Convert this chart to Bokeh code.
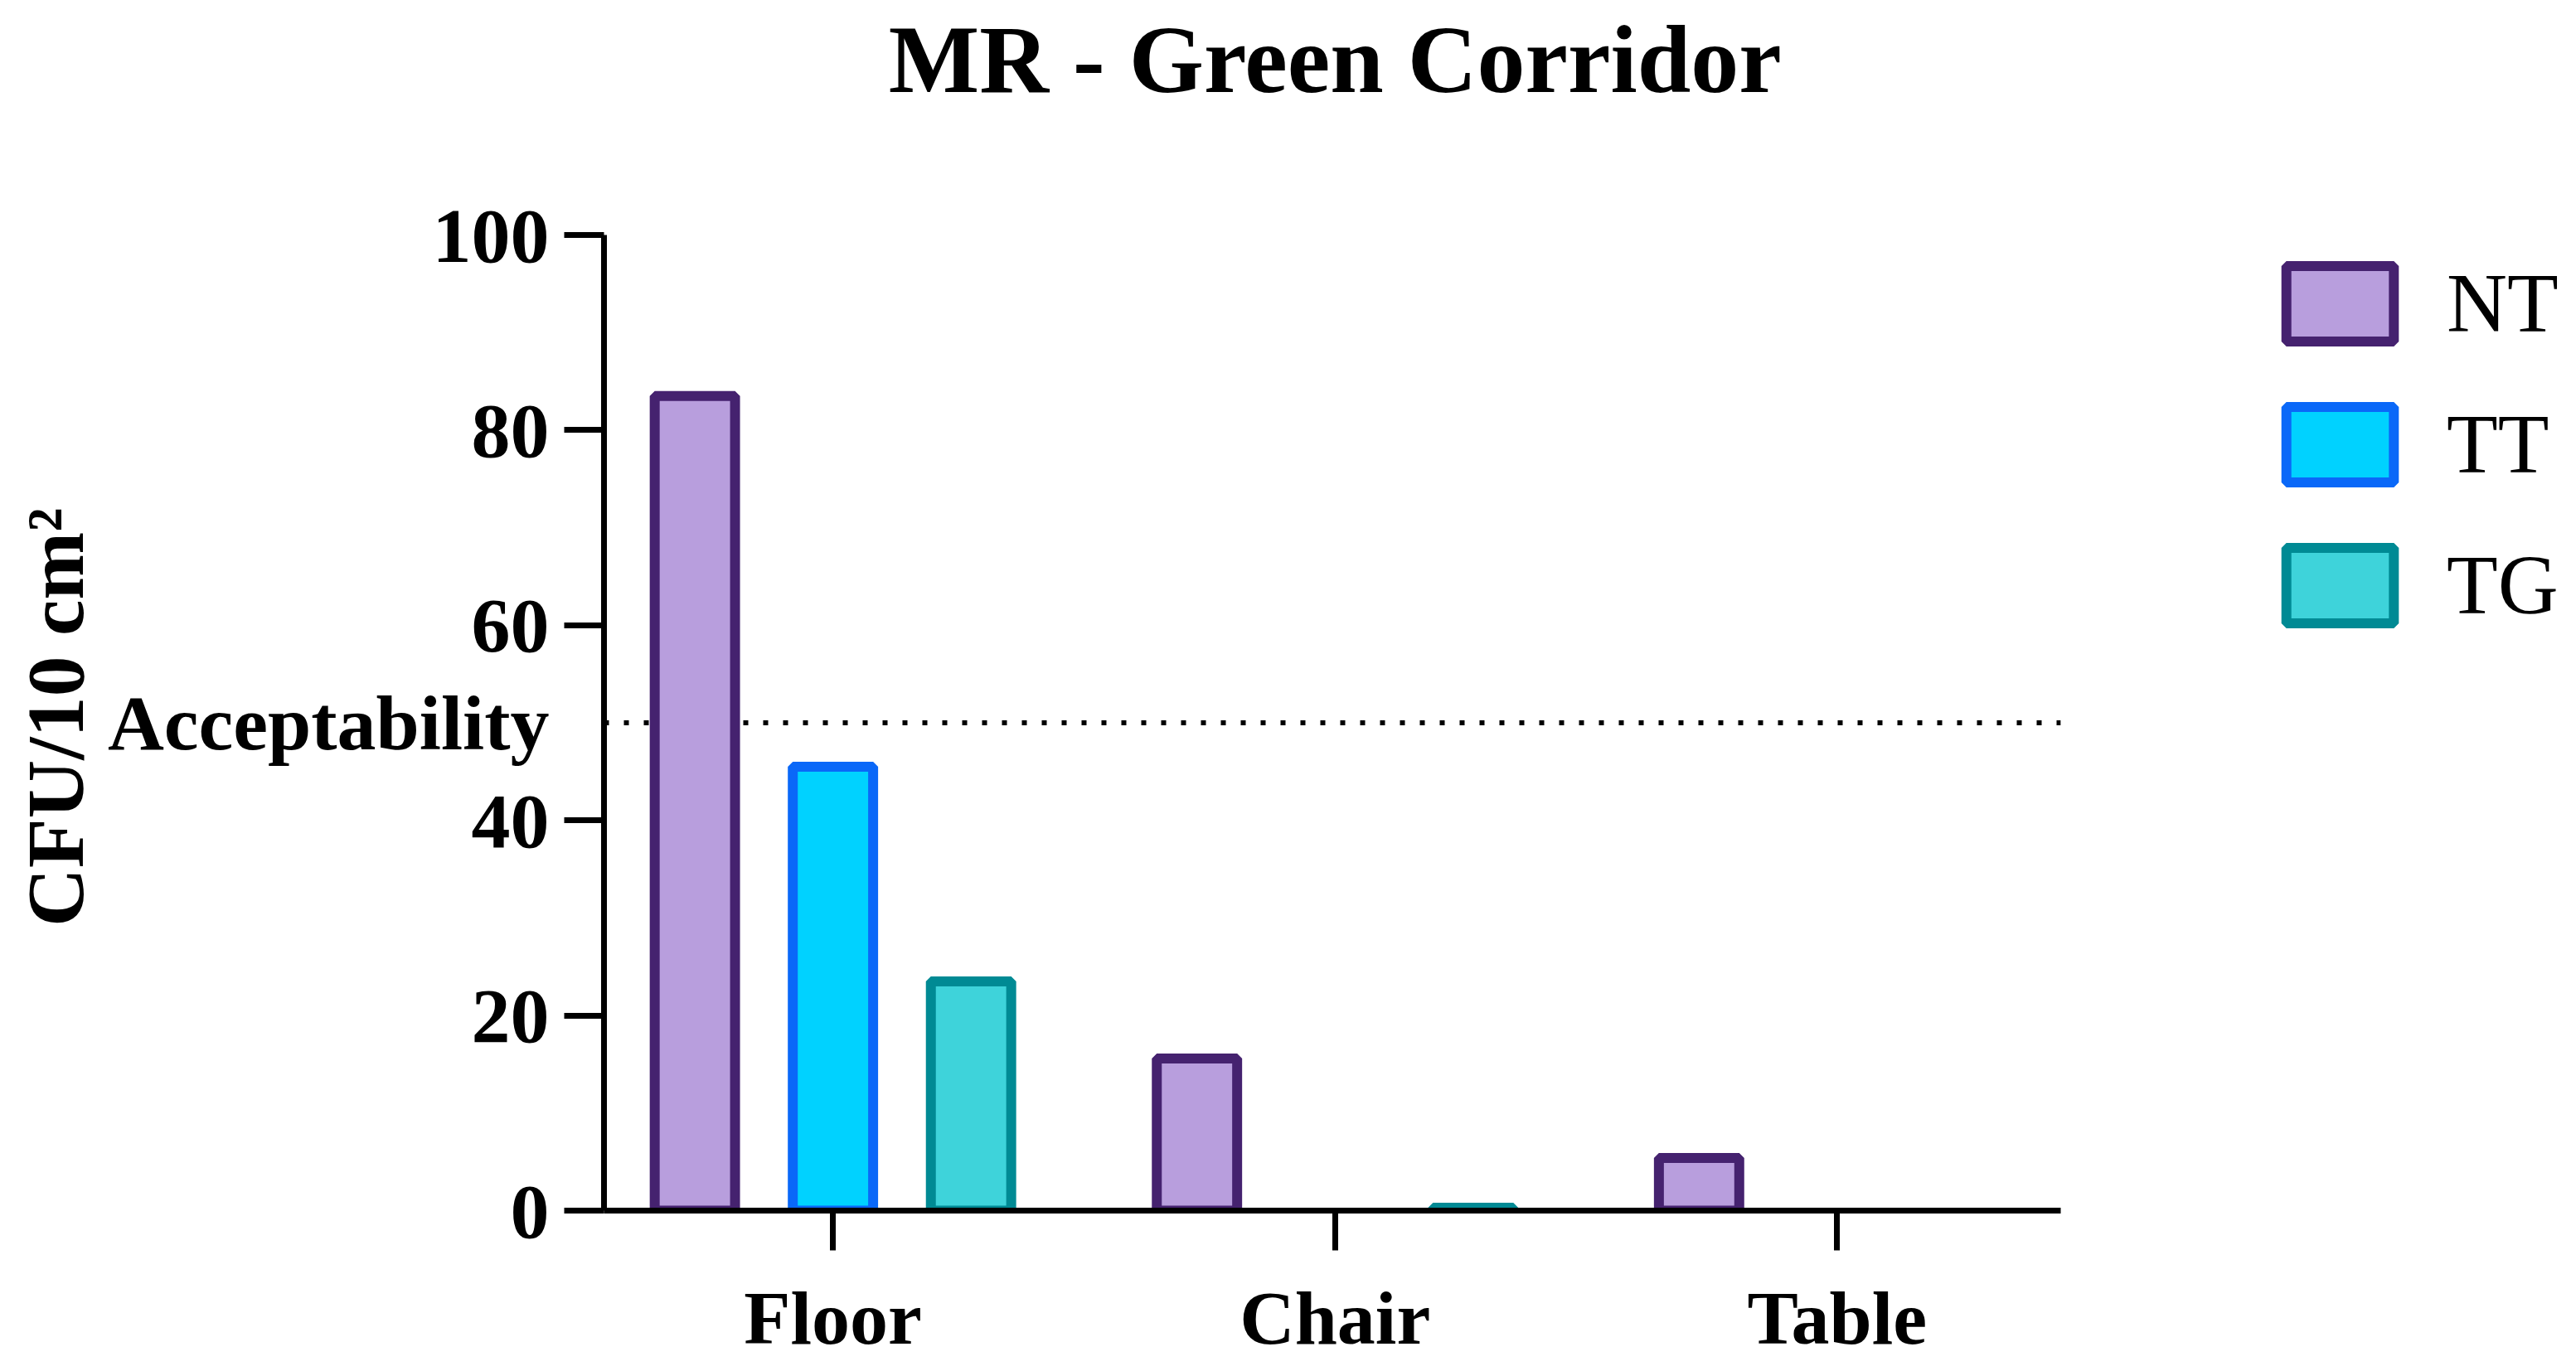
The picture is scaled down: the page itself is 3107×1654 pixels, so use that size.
from bokeh.plotting import figure
from bokeh.models import (ColumnDataSource, Label, Legend, LegendItem,
                          FixedTicker, Range1d)
from bokeh.embed import file_html
from bokeh.resources import INLINE

# ---------------- data ----------------
TITLE = "MR - Green Corridor"
Y_LABEL = "CFU/10 cm²"
THRESHOLD_LABEL = "Acceptability"
categories = ["Floor", "Chair", "Table"]
series = ["NT", "TT", "TG"]
nt_values = [83.5, 15.6, 5.4]
tt_values = [45.5, 0.0, 0.0]
tg_values = [23.5, 0.3, 0.0]
threshold = 50
y_ticks = [0, 20, 40, 60, 80, 100]

# ---------------- style / layout ----------------
FONT = "Liberation Serif"
fills = ["#B89EDD", "#00D2FF", "#3ED3DA"]
lines = ["#45226F", "#0A68F8", "#008A94"]
offsets = [-0.275, 0.0, 0.275]
BAR_W = 0.160

W, H = 3107, 1654
FRAME_LEFT, FRAME_BOTTOM = 728, 1460          # canvas px
PX_PER_CAT = 605.6
PX_PER_UNIT = 11.77
X0, X1 = -0.456, 2.445                        # extent of the drawn x axis
Y_MAX = 100
x_end = X0 + (W - FRAME_LEFT) / PX_PER_CAT
y_end = FRAME_BOTTOM / PX_PER_UNIT

p = figure(width=W, height=H, x_range=Range1d(X0, x_end), y_range=Range1d(0, y_end),
           output_backend="svg", toolbar_location=None,
           min_border_left=FRAME_LEFT, min_border_right=0, min_border_top=0,
           min_border_bottom=H - FRAME_BOTTOM)
p.xgrid.visible = False
p.ygrid.visible = False
p.outline_line_color = None
p.background_fill_color = "white"
p.border_fill_color = "white"

for ax in (p.xaxis[0], p.yaxis[0]):
    ax.axis_line_width = 7
    ax.axis_line_color = "black"
    ax.major_tick_line_width = 7
    ax.major_tick_line_color = "black"
    ax.minor_tick_line_width = 7
    ax.minor_tick_line_color = "black"
    ax.major_tick_in = 0
    ax.minor_tick_in = 0
    ax.major_label_text_font = FONT
    ax.major_label_text_font_style = "bold"
    ax.major_label_text_color = "black"

# x axis
p.xaxis.bounds = (X0, X1)
p.xaxis.ticker = FixedTicker(ticks=list(range(len(categories))))
p.xaxis.major_label_overrides = {i: c for i, c in enumerate(categories)}
p.xaxis.major_label_text_font_size = "92px"
p.xaxis.major_tick_out = 48
p.xaxis.minor_tick_out = 0
p.xaxis.major_label_standoff = 30

# y axis: numeric labels + "Acceptability" at the threshold (label only, no tick mark)
p.yaxis.bounds = (0, Y_MAX)
p.yaxis.ticker = FixedTicker(ticks=sorted(y_ticks + [threshold]), minor_ticks=y_ticks)
p.yaxis.major_label_overrides = {threshold: THRESHOLD_LABEL}
p.yaxis.major_tick_out = 0
p.yaxis.minor_tick_out = 48
p.yaxis.major_label_standoff = 18
p.yaxis.major_label_text_font_size = "94px"
# trailing no-break spaces lift the label's centre off the frame centre
p.yaxis.axis_label = Y_LABEL + "\u00a0" * 11
p.yaxis.axis_label_text_font = FONT
p.yaxis.axis_label_text_font_style = "bold"
p.yaxis.axis_label_text_font_size = "98px"
p.yaxis.axis_label_text_color = "black"
p.yaxis.axis_label_standoff = 6

# threshold line (drawn first, under the bars)
p.segment(x0=[X0], y0=[threshold], x1=[X1], y1=[threshold], line_color="black",
          line_width=6, line_dash="6 18")

renderers = []
for k, vals in enumerate([nt_values, tt_values, tg_values]):
    xs = [i + offsets[k] for i, v in enumerate(vals) if v > 0]
    tops = [v for v in vals if v > 0]
    src = ColumnDataSource(dict(x=xs, top=tops))
    r = p.vbar(x="x", top="top", bottom=0, width=BAR_W, source=src,
               fill_color=fills[k], line_color=lines[k], line_width=12)
    renderers.append(r)

legend = Legend(items=[LegendItem(label=s, renderers=[r]) for s, r in zip(series, renderers)],
                location=(2013, 696), orientation="vertical",
                glyph_width=162, glyph_height=114, label_height=114,
                label_standoff=48, spacing=54, padding=0, margin=0,
                border_line_alpha=0, background_fill_alpha=0,
                label_text_font=FONT, label_text_font_size="101px",
                label_text_color="black")
p.add_layout(legend)

p.add_layout(Label(x=1, y=Y_MAX, y_offset=212, text=TITLE, text_align="center",
                   text_baseline="alphabetic", text_font=FONT, text_font_style="bold",
                   text_font_size="116px", text_color="black"))

open("out.html", "w").write(file_html(p, INLINE))
